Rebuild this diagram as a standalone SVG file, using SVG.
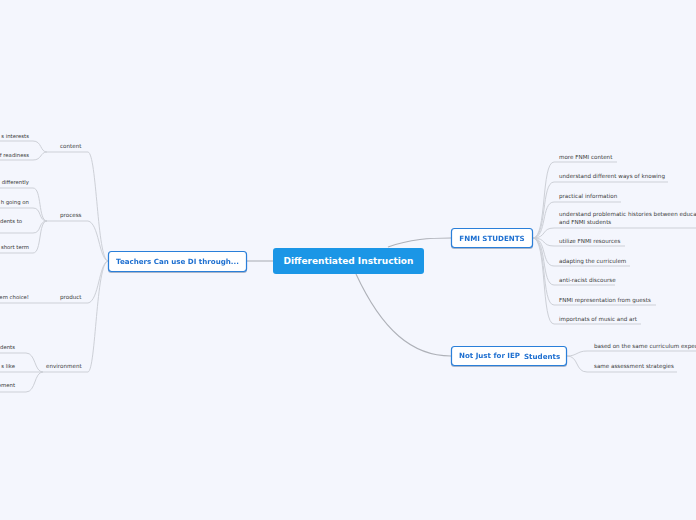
<svg xmlns="http://www.w3.org/2000/svg" width="696" height="520" viewBox="0 0 696 520">
<defs>
<filter id="sh" x="-10%" y="-30%" width="120%" height="170%">
<feDropShadow dx="0" dy="1" stdDeviation="0.7" flood-color="#1a3a6a" flood-opacity="0.35"/>
</filter>
</defs>
<style>
text{font-family:"DejaVu Sans",Verdana,"Liberation Sans",sans-serif}
.t{font-size:5.6px;fill:#3a3a3a}
.l{font-size:5.35px}
.nb{fill:#ffffff;stroke:#2b7fd9;stroke-width:1.2}
.nt{font-size:7.1px;font-weight:bold;fill:#1e6fd0}
.main{stroke:#aeb1b8;stroke-width:1.1;fill:none}
.sub{stroke:#cdd0d7;stroke-width:1;fill:none}
</style>
<rect width="696" height="520" fill="#f4f6fd"/>
<g id="connectors">
<path class="main" d="M246,261 L273,261"/>
<path class="main" d="M388,247 C 410,239 430,238 451,238"/>
<path class="main" d="M356,274 C 382,330 412,356 451,356"/>
<path class="sub" d="M108,261 C 97,259 97,154 88,152 L47,152"/>
<path class="sub" d="M108,261 C 99,259 99,223 88,221 L47,221"/>
<path class="sub" d="M108,261 C 99,263 99,301 88,303 L0,303"/>
<path class="sub" d="M108,261 C 96,263 96,370 88,372 L43,372"/>
<path class="sub" d="M47,152 C 40,152 42,141 33,141 L0,141"/>
<path class="sub" d="M47,152 C 40,152 42,160 33,160 L0,160"/>
<path class="sub" d="M47,221 C 38,221 42,188 33,188 L0,188"/>
<path class="sub" d="M47,221 C 38,221 42,208 33,208 L0,208"/>
<path class="sub" d="M47,221 C 38,221 42,233 33,233 L0,233"/>
<path class="sub" d="M47,221 C 38,221 42,253 33,253 L0,253"/>
<path class="sub" d="M43,372 C 34,372 36,353 26,353 L0,353"/>
<path class="sub" d="M43,372 L0,372"/>
<path class="sub" d="M43,372 C 34,372 36,392 26,392 L0,392"/>
<path class="sub" d="M533,238 C 547,238 541,162 554,162 L617,162"/>
<path class="sub" d="M533,238 C 547,238 541,182 554,182 L668,182"/>
<path class="sub" d="M533,238 C 547,238 541,202 554,202 L621,202"/>
<path class="sub" d="M533,238 C 547,238 541,228 554,228 L696,228"/>
<path class="sub" d="M533,238 C 547,238 541,246 554,246 L625,246"/>
<path class="sub" d="M533,238 C 547,238 541,266 554,266 L630,266"/>
<path class="sub" d="M533,238 C 547,238 541,285 554,285 L615,285"/>
<path class="sub" d="M533,238 C 547,238 541,305 554,305 L656,305"/>
<path class="sub" d="M533,238 C 547,238 541,324 554,324 L641,324"/>
<path class="sub" d="M567,356 C 577,356 577,351 587,351 L696,351"/>
<path class="sub" d="M567,356 C 579,356 575,372 587,372 L677,372"/>
</g>
<g id="center">
<rect x="273" y="248" width="151" height="26" rx="3" fill="#1b96e6"/>
<text x="348.5" y="264.3" text-anchor="middle" font-size="9" font-weight="bold" fill="#ffffff">Differentiated Instruction</text>
</g>
<g id="teachers" filter="url(#sh)">
<rect class="nb" x="108.5" y="251.5" width="138" height="20" rx="3"/>
<text class="nt" x="177.5" y="264" text-anchor="middle">Teachers Can use DI through...</text>
</g>
<g id="fnmi" filter="url(#sh)">
<rect class="nb" x="451.5" y="228.5" width="81" height="19" rx="3"/>
<text class="nt" x="492" y="240.7" text-anchor="middle">FNMI STUDENTS</text>
</g>
<g id="notjust" filter="url(#sh)">
<rect class="nb" x="451.5" y="346.5" width="115" height="19" rx="3"/>
<text class="nt" x="459" y="358.3">Not Just for IEP <tspan x="524" dy="1">Students</tspan></text>
</g>
<g id="content"><text class="t" x="60" y="148">content</text></g>
<g id="process"><text class="t" x="60" y="217">process</text></g>
<g id="product"><text class="t" x="60" y="299">product</text></g>
<g id="environment"><text class="t" x="46" y="368">environment</text></g>
<g id="c1"><text class="t l" x="29" y="137.5" text-anchor="end">s interests</text></g>
<g id="c2"><text class="t l" x="29" y="157" text-anchor="end">f readiness</text></g>
<g id="p1"><text class="t l" x="29" y="184" text-anchor="end">differently</text></g>
<g id="p2"><text class="t l" x="29" y="204" text-anchor="end">h going on</text></g>
<g id="p3"><text class="t l" x="22" y="223" text-anchor="end">dents to</text></g>
<g id="p4"><text class="t l" x="29" y="249" text-anchor="end">short term</text></g>
<g id="pr1"><text class="t l" x="29" y="299" text-anchor="end">em choice!</text></g>
<g id="e1"><text class="t l" x="15" y="349" text-anchor="end">dents</text></g>
<g id="e2"><text class="t l" x="15" y="368" text-anchor="end">s like</text></g>
<g id="e3"><text class="t l" x="15" y="387" text-anchor="end">ement</text></g>
<g id="f1"><text class="t" x="559" y="159">more FNMI content</text></g>
<g id="f2"><text class="t" x="559" y="178">understand different ways of knowing</text></g>
<g id="f3"><text class="t" x="559" y="198">practical information</text></g>
<g id="f4"><text class="t" x="559" y="216">understand problematic histories between educat</text><text class="t" x="559" y="224">and FNMI students</text></g>
<g id="f5"><text class="t" x="559" y="243">utilize FNMI resources</text></g>
<g id="f6"><text class="t" x="559" y="263">adapting the curriculem</text></g>
<g id="f7"><text class="t" x="559" y="282">anti-racist discourse</text></g>
<g id="f8"><text class="t" x="559" y="302">FNMI representation from guests</text></g>
<g id="f9"><text class="t" x="559" y="321">importnats of music and art</text></g>
<g id="n1"><text class="t" x="594" y="348">based on the same curriculum expec</text></g>
<g id="n2"><text class="t" x="594" y="368">same assessment strategies</text></g>
</svg>
